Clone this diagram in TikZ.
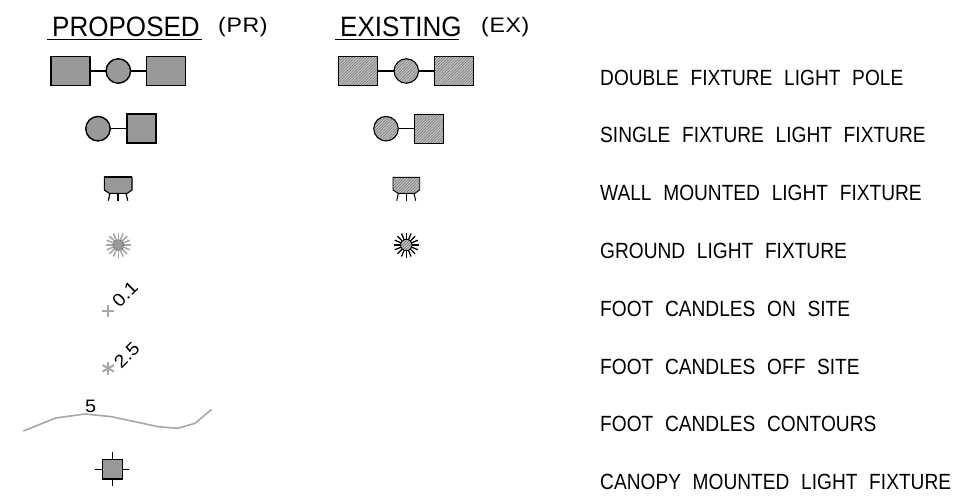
\documentclass[tikz,border=0pt]{standalone}
\usepackage{fontspec}
\setmainfont{Liberation Sans}[FakeStretch=0.87,WordSpace=2.2]
\newfontfamily\headfont{Liberation Sans}[FakeStretch=0.93]
\newfontfamily\tagfont{Liberation Sans}[FakeStretch=1.1,LetterSpace=3]
\newfontfamily\readfont{Liberation Sans}[FakeStretch=1.1]
\usepackage{xcolor}
\usetikzlibrary{positioning}
\usetikzlibrary{patterns.meta}
\colorlet{prfill}{black!40}
\colorlet{exfill}{black!25}
\colorlet{exhatch}{black!55}
\colorlet{faint}{black!35}
\tikzset{
  prshape/.style={draw, line width=1.4pt, fill=prfill, inner sep=0, outer sep=0},
  exshape/.style={draw, line width=1.1pt, inner sep=0, outer sep=0, preaction={fill=exfill},
    pattern={Lines[angle=45,distance=2pt,line width=0.5pt]}, pattern color=exhatch},
  lamp/.style={minimum width=39pt, minimum height=29pt},
  boxlamp/.style={minimum width=29pt, minimum height=29pt},
  bulb/.style={circle, minimum size=24.5pt},
  arm/.style={line width=1.1pt},
  heading/.style={font=\headfont\fontsize{28}{28}\selectfont, anchor=base west, inner sep=0},
  tag/.style={font=\tagfont\fontsize{21}{21}\selectfont, anchor=base west, inner sep=0},
  legend/.style={font=\fontsize{22}{22}\selectfont, anchor=west, inner sep=0},
  reading/.style={font=\readfont\fontsize{18}{18}\selectfont, inner sep=0}
}

\begin{document}
\begin{tikzpicture}[x=1pt, y=-1pt]
\useasboundingbox (0,0) rectangle (977,500);

% Column headings
\node[heading] (prTitle) at (52,37) {PROPOSED};
\node[tag] (prTag) at (218,33) {(PR)};
\node[heading] (exTitle) at (340,37) {EXISTING};
\node[tag] (exTag) at (481,33) {(EX)};
\coordinate (prA) at (47,39.5);
\coordinate (prB) at (202,39.5);
\coordinate (exA) at (335,39.5);
\coordinate (exB) at (459,39.5);
\draw[line width=1.1pt] (prA) -- (prB);
\draw[line width=1.1pt] (exA) -- (exB);

% Double fixture
\node[prshape, lamp] (prDoubleL) at (70.3,71) {};
\node[prshape, bulb] (prDoubleC) at (118.3,71) {};
\node[prshape, lamp] (prDoubleR) at (166.2,71) {};
\draw[arm] (prDoubleL) -- (prDoubleC);
\draw[arm] (prDoubleC) -- (prDoubleR);
\node[exshape, lamp] (exDoubleL) at (358.4,71) {};
\node[exshape, bulb] (exDoubleC) at (406.3,71) {};
\node[exshape, lamp] (exDoubleR) at (454.3,71) {};
\draw[arm] (exDoubleL) -- (exDoubleC);
\draw[arm] (exDoubleC) -- (exDoubleR);

% Single fixture
\node[prshape, bulb] (prSingleC) at (98,128.7) {};
\node[prshape, boxlamp] (prSingleB) at (141.3,128.7) {};
\draw[arm] (prSingleC) -- (prSingleB);
\node[exshape, bulb] (exSingleC) at (386,128.7) {};
\node[exshape, boxlamp] (exSingleB) at (429.2,128.7) {};
\draw[arm] (exSingleC) -- (exSingleB);

% Wall mounted
\draw[line width=1.2pt] (110,193.3) -- (108.3,200.7);
\draw[line width=1.2pt] (118,193.3) -- (118,201);
\draw[line width=1.2pt] (126,193.3) -- (127.7,200.7);
\draw[fill=prfill, line width=1.1pt] (104.3,177.3) -- (132,177.3) -- (132,190) -- (127.3,193.3) -- (109.3,193.3) -- (104.3,190) -- cycle;
\draw[line width=2.2pt] (104.3,177.3) -- (132,177.3);
\draw[line width=1pt] (398.3,193.3) -- (396.7,200.7);
\draw[line width=1pt] (406,193.3) -- (406,201);
\draw[line width=1pt] (414,193.3) -- (415.7,200.7);
\draw[exshape, line width=0.9pt] (393,177.3) -- (419.7,177.3) -- (419.7,190) -- (415,193.3) -- (398,193.3) -- (393,190) -- cycle;
\draw[line width=1.6pt] (393,177.3) -- (419.7,177.3);

% Ground fixture
\foreach \a in {0,22.5,...,337.5} {
  \draw[faint, line width=1.5pt] (118.3,245) ++(\a:5) -- ++(\a:7.5);
  \draw[black, line width=1.3pt] (406.3,245) ++(\a:5) -- ++(\a:7.5);
}
\fill[prfill] (118.3,245) circle (5.5);
\draw[black!70, densely dotted, line width=0.7pt] (118.3,245) circle (5.5);
\draw[exshape, line width=0.9pt] (406.3,245) circle (5.7);

% Foot candles on and off site
\draw[faint, line width=1.9pt] (102.3,310.7) -- (114.3,310.7);
\draw[faint, line width=1.9pt] (108.3,304.7) -- (108.3,316.7);
\node[reading, rotate=45] (readOn) at (125,294) {0.1};
\foreach \a in {0,60,120} {
  \draw[faint, line width=2pt] (108.3,368.3) ++(90+\a:6.5) -- ++(270+\a:13);
}
\node[reading, rotate=45] (readOff) at (126.7,355) {2.5};

% Contour
\draw[faint, line width=1.6pt] (23.3,431) -- (55.7,418) -- (85,414) -- (111.7,416.7) -- (158.3,426.7)
  -- (177.7,428.3) -- (195,423.3) -- (211.7,409.3);
\node[reading] (readLine) at (90.7,406.7) {5};

% Canopy
\coordinate (tickW) at (95.3,469.3);
\coordinate (tickE) at (129.3,469.3);
\coordinate (tickN) at (112.5,451.7);
\coordinate (tickS) at (112.5,486);
\draw[arm] (tickW) -- (tickE);
\draw[arm] (tickN) -- (tickS);
\node[prshape, minimum size=19.6pt] (canopy) at (112.5,469.3) {};

% Descriptions
\node[legend] (lblDouble) at (600,78) {DOUBLE FIXTURE LIGHT POLE};
\node[legend] (lblSingle) at (600,135) {SINGLE FIXTURE LIGHT FIXTURE};
\node[legend] (lblWall) at (600,193.3) {WALL MOUNTED LIGHT FIXTURE};
\node[legend] (lblGround) at (600,251) {GROUND LIGHT FIXTURE};
\node[legend] (lblOn) at (600,309) {FOOT CANDLES ON SITE};
\node[legend] (lblOff) at (600,367) {FOOT CANDLES OFF SITE};
\node[legend] (lblContour) at (600,424) {FOOT CANDLES CONTOURS};
\node[legend] (lblCanopy) at (600,482) {CANOPY MOUNTED LIGHT FIXTURE};
\end{tikzpicture}
\end{document}
